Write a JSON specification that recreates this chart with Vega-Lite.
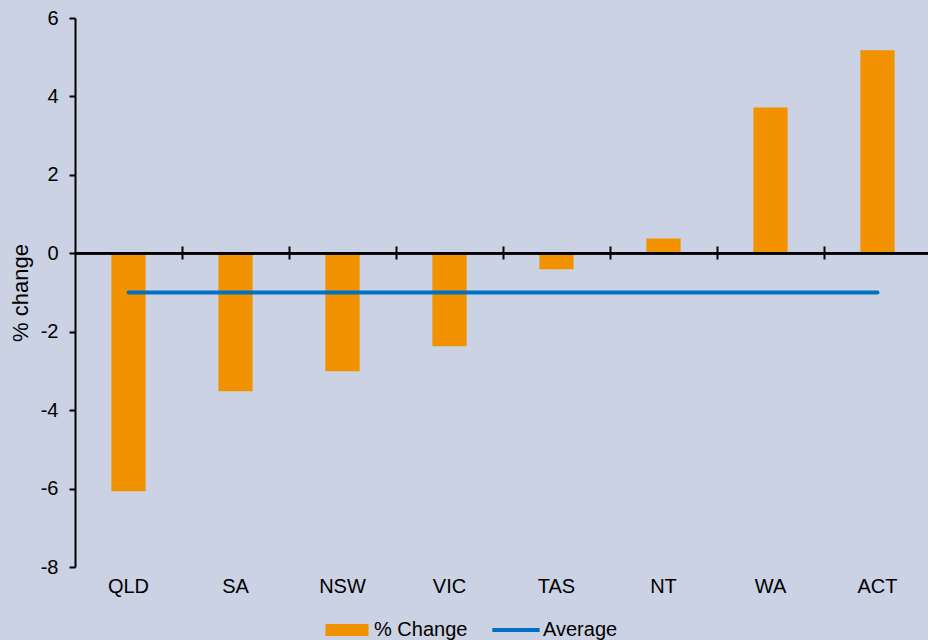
{
  "$schema": "https://vega.github.io/schema/vega-lite/v6.json",
  "width": 856,
  "height": 549,
  "autosize": {"type": "none"},
  "padding": {"left": 75, "top": 18, "right": 0, "bottom": 73},
  "background": "#cbd2e4",
  "config": {
    "view": {"stroke": null},
    "font": "Liberation Sans",
    "axis": {"labelFont": "Liberation Sans", "titleFont": "Liberation Sans", "labelColor": "#000000", "titleColor": "#000000"},
    "legend": {"labelFont": "Liberation Sans"}
  },
  "data": {
    "values": [
      {"state": "QLD", "change": -6.07, "average": -1.0},
      {"state": "SA", "change": -3.52, "average": -1.0},
      {"state": "NSW", "change": -3.01, "average": -1.0},
      {"state": "VIC", "change": -2.37, "average": -1.0},
      {"state": "TAS", "change": -0.41, "average": -1.0},
      {"state": "NT", "change": 0.38, "average": -1.0},
      {"state": "WA", "change": 3.72, "average": -1.0},
      {"state": "ACT", "change": 5.18, "average": -1.0}
    ]
  },
  "resolve": {"axis": {"x": "independent"}},
  "layer": [
    {
      "mark": {"type": "bar"},
      "encoding": {
        "x": {
          "field": "state", "type": "nominal", "sort": null,
          "scale": {"paddingInner": 0.68, "paddingOuter": 0.34},
          "axis": {"orient": "bottom", "title": null, "domain": false, "ticks": false, "labelAngle": 0, "labelFontSize": 20, "labelPadding": 9}
        },
        "y": {
          "field": "change", "type": "quantitative",
          "scale": {"domain": [-8, 6], "nice": false, "zero": false},
          "axis": {"title": "% change", "titleFontSize": 22, "titleFontWeight": "normal", "titlePadding": 8, "values": [-8, -6, -4, -2, 0, 2, 4, 6], "labelExpr": "'' + datum.value", "grid": false, "domainColor": "#000000", "domainWidth": 2, "tickColor": "#000000", "tickWidth": 2, "tickSize": 6, "labelFontSize": 20, "labelPadding": 11}
        },
        "y2": {"datum": 0},
        "color": {
          "datum": "% Change", "type": "nominal",
          "scale": {"domain": ["% Change", "Average"], "range": ["#f39200", "#0070c0"]},
          "legend": {
            "title": null, "orient": "none", "direction": "horizontal", "legendX": 262, "legendY": 602, "padding": 0,
            "labelFontSize": 20, "labelOffset": 17, "columnPadding": 16, "symbolSize": 1849,
            "encode": {"symbols": {"update": {
              "shape": {"signal": "datum.value === 'Average' ? 'M-1.1,0H1.1' : 'M-1,-0.28H1V0.28H-1Z'"},
              "size": {"value": 1849},
              "strokeWidth": {"signal": "datum.value === 'Average' ? 4 : 0"},
              "fill": {"signal": "datum.value === 'Average' ? 'transparent' : '#f39200'"},
              "stroke": {"signal": "datum.value === 'Average' ? '#0070c0' : 'transparent'"},
              "opacity": {"value": 1},
              "fillOpacity": {"value": 1},
              "strokeOpacity": {"value": 1}
            }}}
          }
        }
      }
    },
    {
      "mark": {"type": "rule", "color": "#000000", "strokeWidth": 2},
      "encoding": {"y": {"datum": 0}}
    },
    {
      "mark": {"type": "line", "strokeWidth": 4, "strokeCap": "round"},
      "encoding": {
        "x": {
          "field": "state", "type": "nominal", "sort": null,
          "axis": {"orient": "top", "offset": -241, "title": null, "labels": false, "domain": false, "ticks": true, "values": ["QLD", "SA", "NSW", "VIC", "TAS", "NT", "WA"], "tickOffset": 53.5, "tickSize": 13, "tickWidth": 2, "tickColor": "#000000"}
        },
        "y": {"field": "average", "type": "quantitative"},
        "color": {"datum": "Average", "type": "nominal"}
      }
    }
  ]
}
